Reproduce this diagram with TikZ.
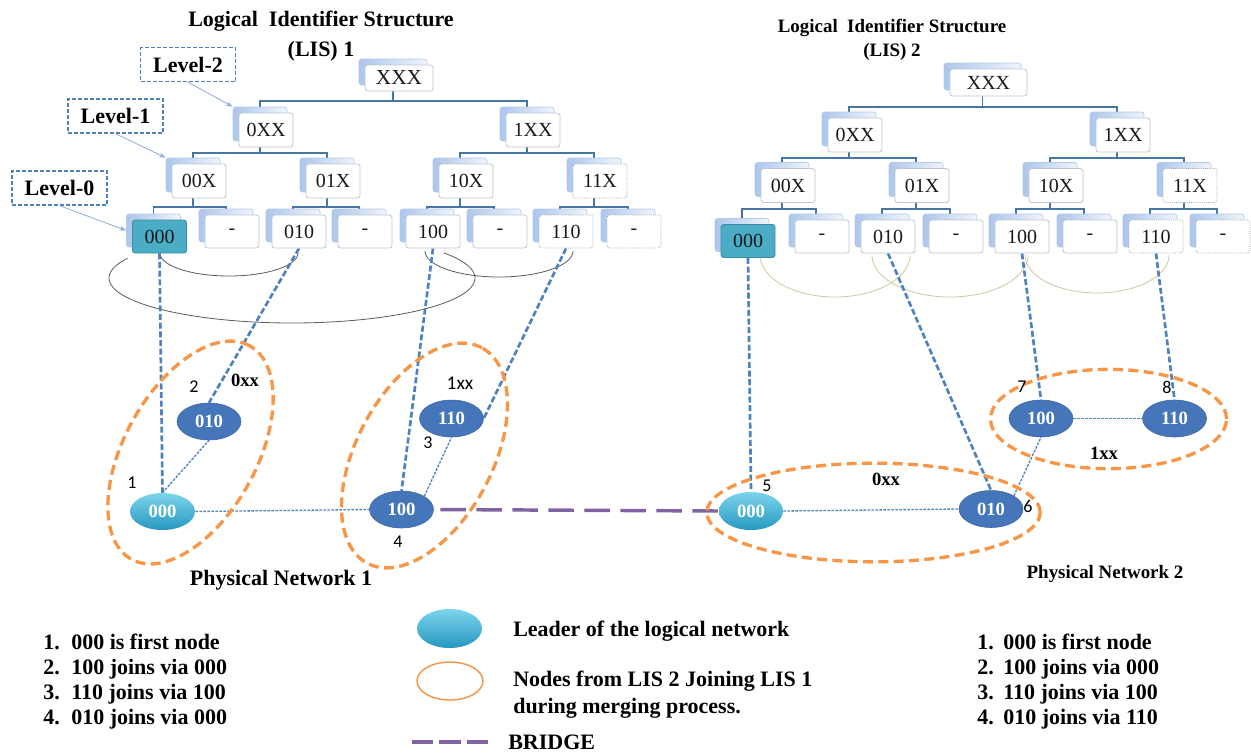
\documentclass[tikz,border=0pt]{standalone}
\usepackage{fontspec}
\setmainfont{Liberation Serif}
\newfontfamily\numfont{Carlito}
\usetikzlibrary{shapes.geometric,arrows.meta,calc}
\pgfdeclarelayer{bg}
\pgfsetlayers{bg,main}

\definecolor{treeblue}{RGB}{70,118,162}
\definecolor{linkblue}{RGB}{79,129,189}
\definecolor{orangeg}{RGB}{247,150,70}
\definecolor{bridgeviolet}{RGB}{128,100,162}
\definecolor{nodeblue}{RGB}{70,118,186}
\definecolor{leadtop}{RGB}{125,212,236}
\definecolor{leadbot}{RGB}{38,152,192}
\definecolor{tealbox}{RGB}{75,172,198}
\definecolor{backleft}{RGB}{172,198,236}
\definecolor{backright}{RGB}{240,245,252}
\definecolor{backedge}{RGB}{180,202,230}
\definecolor{frontedge}{RGB}{188,198,212}
\definecolor{arcgray}{RGB}{90,90,90}
\definecolor{arctan}{RGB}{205,200,160}
\definecolor{levelarrow}{RGB}{140,172,212}

\tikzset{
  backbox/.style={draw=backedge, line width=0.5pt, rounded corners=2pt,
    left color=backleft, right color=backright, inner sep=0pt},
  frontbox/.style={draw=frontedge, line width=0.6pt, rounded corners=2pt,
    fill=white, inner sep=0pt, text=black!90, font=\fontsize{15}{15}\selectfont},
  leafsz/.style={minimum width=40.5pt, minimum height=24.75pt},
  midsz/.style={minimum width=40.5pt, minimum height=25.5pt},
  tealfront/.style={fill=tealbox, draw=tealbox!80!black},
  dotfront/.style={draw=gray!75, densely dotted},
  tree/.style={draw=treeblue, line width=1.1pt},
  levelbox/.style={draw=linkblue, dash pattern=on 3pt off 1.5pt, line width=1pt,
    minimum width=71.25pt, minimum height=25.5pt, inner sep=0pt,
    font=\bfseries\fontsize{16.5}{16.5}\selectfont},
  levarrow/.style={draw=levelarrow, line width=0.6pt, -{Stealth[length=5pt,width=3.5pt]}},
  pnode/.style={ellipse, minimum width=48pt, minimum height=27.75pt, inner sep=0pt,
    fill=nodeblue, draw=nodeblue!85!black, line width=0.4pt, text=white,
    font=\bfseries\fontsize{14}{14}\selectfont},
  leader/.style={ellipse, minimum width=48.75pt, minimum height=27.75pt, inner sep=0pt,
    top color=leadtop, bottom color=leadbot, text=white,
    font=\bfseries\fontsize{14}{14}\selectfont},
  grp/.style={ellipse, draw=orangeg, line width=2.5pt, dash pattern=on 7.5pt off 4pt,
    inner sep=0pt},
  linkdash/.style={draw=linkblue, line width=2pt, dash pattern=on 4.5pt off 2pt},
  thinlink/.style={draw=linkblue, line width=1pt, dash pattern=on 2pt off 1pt},
  bridgeline/.style={draw=bridgeviolet, line width=2.6pt, dash pattern=on 19pt off 8pt},
  arcline/.style={draw=arcgray, line width=0.6pt},
  arclight/.style={draw=arctan, line width=0.6pt},
  numlabel/.style={inner sep=0pt, font=\numfont\fontsize{13.5}{13.5}\selectfont},
  grouplabel/.style={inner sep=0pt, font=\bfseries\fontsize{14}{14}\selectfont},
  boldtext/.style={inner sep=0pt, font=\bfseries\fontsize{16.5}{20.25}\selectfont},
  listtext/.style={anchor=base west, inner sep=0pt, font=\bfseries\fontsize{16.5}{16.5}\selectfont}
}

% stacked identifier box: back plate offset up-left, front plate with the label
% #1 size style, #2 extra front style, #3 name, #4 x, #5 y, #6 text
\newcommand\stk[6]{%
  \node[backbox,#1] (s#3) at ({#4-6},{#5-6}) {};
  \node[frontbox,#1,#2] (#3) at (#4,#5) {#6};}

\begin{document}
\begin{tikzpicture}[x=0.75pt,y=-0.75pt]
\path[use as bounding box] (0,0) rectangle (1251,754);

% ---------- titles ----------
\node[inner sep=0pt, align=center, font=\bfseries\fontsize{16.5}{22.5}\selectfont]
  (title1) at (321,36) {Logical\ \ Identifier Structure\\(LIS) 1};
\node[inner sep=0pt, align=center, font=\bfseries\fontsize{14.2}{18}\selectfont]
  (title2) at (892,40) {Logical\ \ Identifier Structure\\(LIS) 2};

% ---------- LIS 1 tree ----------
\stk{minimum width=51pt, minimum height=19.5pt}{font=\fontsize{16}{16}\selectfont}{axxx}{399}{78}{XXX}
\stk{midsz}{}{a0xx}{266}{130}{0XX}
\stk{midsz}{}{a1xx}{533}{130}{1XX}
\stk{midsz}{}{a00x}{199}{181}{00X}
\stk{midsz}{}{a01x}{333}{181}{01X}
\stk{midsz}{}{a10x}{466}{181}{10X}
\stk{midsz}{dotfront}{a11x}{600}{181}{11X}
\stk{leafsz}{tealfront}{a000}{159.5}{236.5}{000}
\stk{leafsz}{}{a001}{232}{231.5}{-}
\stk{leafsz}{}{a010}{299}{231.5}{010}
\stk{leafsz}{}{a011}{365}{231.5}{-}
\stk{leafsz}{}{a100}{433}{231.5}{100}
\stk{leafsz}{}{a101}{500}{231.5}{-}
\stk{leafsz}{dotfront}{a110}{566}{231.5}{110}
\stk{leafsz}{dotfront}{a111}{634}{231.5}{-}

% ---------- LIS 2 tree ----------
\stk{minimum width=57.75pt, minimum height=20.25pt}{}{bxxx}{988.5}{82.5}{XXX}
\stk{midsz}{}{b0xx}{855}{135}{0XX}
\stk{midsz}{}{b1xx}{1123}{135}{1XX}
\stk{midsz}{}{b00x}{788}{185.5}{00X}
\stk{midsz}{}{b01x}{922}{185.5}{01X}
\stk{midsz}{}{b10x}{1056}{185.5}{10X}
\stk{midsz}{dotfront}{b11x}{1190}{185.5}{11X}
\stk{leafsz}{tealfront}{b000}{748}{241}{000}
\stk{leafsz}{}{b001}{822}{236.5}{-}
\stk{leafsz}{}{b010}{888}{236.5}{010}
\stk{leafsz}{}{b011}{956}{236.5}{-}
\stk{leafsz}{}{b100}{1022}{236.5}{100}
\stk{leafsz}{}{b101}{1090}{236.5}{-}
\stk{leafsz}{dotfront}{b110}{1156}{236.5}{110}
\stk{leafsz}{dotfront}{b111}{1223}{236.5}{-}

% ---------- level tags ----------
\node[levelbox] (lev2) at (188,64.5) {Level-2};
\node[levelbox] (lev1) at (115.5,116) {Level-1};
\node[levelbox] (lev0) at (59.5,188) {Level-0};
\draw[levarrow] (lev2.south) -- (sa0xx.north west);
\draw[levarrow] (lev1.south) -- (sa00x.north west);
\draw[levarrow] (lev0.south) -- (sa000.west);

% ---------- physical nodes ----------
\node[leader] (p1000) at (162.5,511.5) {000};
\node[pnode] (p1010) at (209,421.5) {010};
\node[pnode] (p1110) at (451.5,418.5) {110};
\node[pnode] (p1100) at (401.5,509.5) {100};
\node[leader, minimum width=48pt, minimum height=28.5pt] (p2000) at (751,511) {000};
\node[pnode] (p2010) at (991,509) {010};
\node[pnode] (p2100) at (1041,418.5) {100};
\node[pnode] (p2110) at (1174.5,418.5) {110};

\begin{pgfonlayer}{bg}
  % tree connectors
  \foreach \p/\c/\y in {axxx/a0xx/101, axxx/a1xx/101,
      a0xx/a00x/153, a0xx/a01x/153, a1xx/a10x/153, a1xx/a11x/153,
      a00x/a000/207, a00x/a001/207, a01x/a010/207, a01x/a011/207,
      a10x/a100/207, a10x/a101/207, a11x/a110/207, a11x/a111/207,
      bxxx/b0xx/107, bxxx/b1xx/107,
      b0xx/b00x/158, b0xx/b01x/158, b1xx/b10x/158, b1xx/b11x/158,
      b00x/b000/209, b00x/b001/209, b01x/b010/209, b01x/b011/209,
      b10x/b100/209, b10x/b101/209, b11x/b110/209, b11x/b111/209}
    \draw[tree] (s\p.south) -- (s\p.south |- 0,\y) -| (s\c.north);

  % neighbourhood arcs under the leaves
  \draw[arcline] plot[domain=0:180, samples=60, smooth] ({229+69*cos(\x)},{253+23*sin(\x)});
  \draw[arcline] plot[domain=-34:206, samples=90, smooth] ({292+183*cos(\x)},{278+45*sin(\x)});
  \draw[arcline] plot[domain=0:180, samples=60, smooth] ({499+74*cos(\x)},{251+26*sin(\x)});
  \draw[arclight] plot[domain=0:180, samples=60, smooth] ({835+75*cos(\x)},{255+42*sin(\x)});
  \draw[arclight] plot[domain=0:180, samples=60, smooth] ({950+78*cos(\x)},{255+42*sin(\x)});
  \draw[arclight] plot[domain=0:180, samples=60, smooth] ({1097+72*cos(\x)},{255+38*sin(\x)});

  % identifiers mapped to physical nodes
  \draw[linkdash] (a000.south) -- (p1000.north);
  \draw[linkdash] (a010.south) -- (p1010.north);
  \draw[linkdash] (a100.south) -- (p1100.north);
  \draw[linkdash] (a110.south) -- (p1110.east);
  \draw[linkdash] (b000.south) -- (p2000.north);
  \draw[linkdash] (b010.south) -- (p2010.north);
  \draw[linkdash] (b100.south) -- (p2100.north);
  \draw[linkdash] (b110.south) -- (p2110.north);

  % physical links
  \draw[thinlink] (p1000.north) -- (p1010.south);
  \draw[thinlink] (p1000.east) -- (p1100.west);
  \draw[thinlink] (p1100.north east) -- (p1110.south);
  \draw[thinlink] (p2000.east) -- (p2010.west);
  \draw[thinlink] (p2100.east) -- (p2110.west);
  \draw[thinlink] (p2010.north east) -- (p2100.south);

  % bridge between the two networks
  \draw[bridgeline, shorten <=5pt] (p1100.east) -- (p2000.west);

  % groups
  \node[grp, minimum width=183pt, minimum height=99pt, rotate=61] (g1) at (190.5,452.5) {};
  \node[grp, minimum width=183pt, minimum height=102pt, rotate=62] (g2) at (424.5,455.5) {};
  \node[grp, minimum width=250pt, minimum height=74pt] (g3) at (873.5,512.5) {};
  \node[grp, minimum width=177pt, minimum height=74.5pt] (g4) at (1108.5,419) {};
\end{pgfonlayer}

% ---------- labels around the physical networks ----------
\node[numlabel] (n1) at (132,483) {1};
\node[numlabel] (n2) at (194,387) {2};
\node[numlabel] (n3) at (428,443) {3};
\node[numlabel] (n4) at (398,542) {4};
\node[numlabel] (n5) at (767,486) {5};
\node[numlabel] (n6) at (1028,506) {6};
\node[numlabel] (n7) at (1022,387) {7};
\node[numlabel] (n8) at (1167,387) {8};
\node[grouplabel] (x1) at (245,380) {0xx};
\node[inner sep=0pt, font=\numfont\fontsize{14.5}{14.5}\selectfont] (x2) at (460,383) {1xx};
\node[grouplabel] (x3) at (886,479) {0xx};
\node[grouplabel] (x4) at (1104,453) {1xx};
\node[boldtext] (pn1) at (281,580) {Physical Network 1};
\node[inner sep=0pt, font=\bfseries\fontsize{14.2}{14.2}\selectfont] (pn2) at (1105,574) {Physical Network 2};

% ---------- legend ----------
\node[leader, minimum width=48.75pt, minimum height=29.25pt] (kLeader) at (449.5,628.5) {};
\node[ellipse, draw=orangeg, line width=1.1pt, minimum width=49.5pt, minimum height=28.5pt,
  inner sep=0pt] (kGroup) at (450,681) {};
\coordinate (kb1) at (412,742);
\coordinate (kb2) at (488,742);
\draw[bridgeline, dash pattern=on 16pt off 4.5pt] (kb1) -- (kb2);
\node[boldtext, anchor=west] (tLeader) at (513,631) {Leader of the logical network};
\node[boldtext, anchor=west, align=left] (tGroup) at (513,694.5)
  {Nodes from LIS 2 Joining LIS 1\\during merging process.};
\node[boldtext, anchor=west] (tBridge) at (508,742) {BRIDGE};

% ---------- join order lists ----------
\node[listtext] (l1) at (43,649) {\makebox[21pt][l]{1.}000 is first node};
\node[listtext] (l2) at (43,674) {\makebox[21pt][l]{2.}100 joins via 000};
\node[listtext] (l3) at (43,699) {\makebox[21pt][l]{3.}110 joins via 100};
\node[listtext] (l4) at (43,724) {\makebox[21pt][l]{4.}010 joins via 000};
\node[listtext] (r1) at (977,649) {\makebox[19.5pt][l]{1.}000 is first node};
\node[listtext] (r2) at (977,674) {\makebox[19.5pt][l]{2.}100 joins via 000};
\node[listtext] (r3) at (977,699) {\makebox[19.5pt][l]{3.}110 joins via 100};
\node[listtext] (r4) at (977,724) {\makebox[19.5pt][l]{4.}010 joins via 110};
\end{tikzpicture}
\end{document}
